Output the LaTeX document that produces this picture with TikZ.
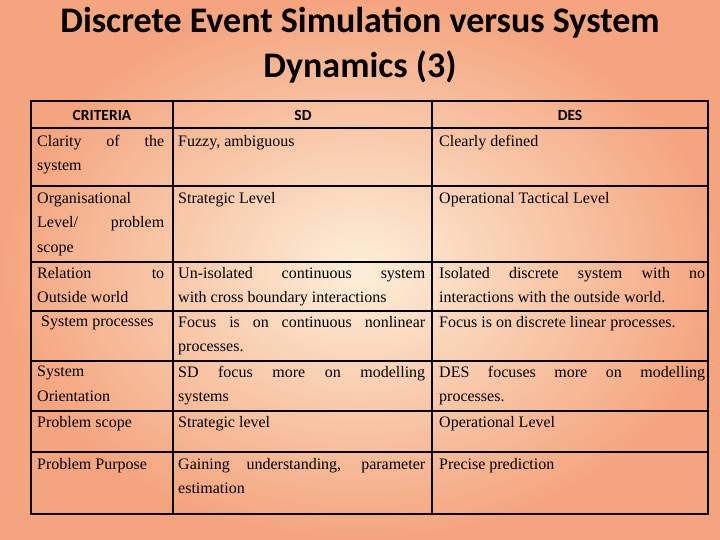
\documentclass[tikz,border=0pt]{standalone}
\usepackage{fontspec}
\setmainfont{Liberation Serif}
\newfontfamily\hdfont{Carlito}
\definecolor{bgin}{HTML}{FCEFD8}
\definecolor{bgout}{HTML}{F4A57E}
\hyphenpenalty=10000
\exhyphenpenalty=10000
\begin{document}
\begin{tikzpicture}[x=1pt,y=-1pt,
  cell/.style={anchor=north west,inner sep=0pt,align=justify,font=\fontsize{16}{24.5}\selectfont},
  hd/.style={font=\hdfont\bfseries\fontsize{15.5}{18}\selectfont,inner sep=0pt},
  ttl/.style={font=\hdfont\bfseries\fontsize{36}{45}\selectfont,align=center,inner sep=0pt}]
\path[use as bounding box,shading=radial,inner color=bgin,outer color=bgout] (0,0) rectangle (720,540);
\node[ttl] (title) at (360,45) {Discrete Event Simulation versus System\\Dynamics (3)};
% grid
\draw[line width=1.5pt] (31,101) rectangle (708,514);
\foreach \y in {128,186,262,311,361,411,452} \draw[line width=1.2pt] (31,\y) -- (708,\y);
\draw[line width=1.2pt] (173,101) -- (173,514);
\draw[line width=1.2pt] (432,101) -- (432,514);
% header
\node[hd] (h1) at (102,115) {CRITERIA};
\node[hd] (h2) at (303,115) {SD};
\node[hd] (h3) at (570,115) {DES};
% column 1
\begin{scope}[cell/.append style={text width=127pt}]
\node[cell] (a1) at (37,135) {Clarity of the\linebreak system};
\node[cell] (a2) at (37,192) {Organisational\\Level/ problem\linebreak scope};
\node[cell] (a3) at (37,267) {Relation to\linebreak Outside world};
\node[cell] (a4) at (37,316) {\ System processes};
\node[cell] (a5) at (37,366) {System\\Orientation};
\node[cell] (a6) at (37,416) {Problem scope};
\node[cell] (a7) at (37,458) {Problem Purpose};
\end{scope}
\begin{scope}[cell/.append style={text width=247pt}]
\node[cell] (b1) at (178,135) {Fuzzy, ambiguous};
\node[cell] (b2) at (178,192) {Strategic Level};
\node[cell] (b3) at (178,267) {Un-isolated continuous system\linebreak with cross boundary interactions};
\node[cell] (b4) at (178,316) {Focus is on continuous nonlinear\linebreak processes.};
\node[cell] (b5) at (178,366) {SD focus more on modelling\linebreak systems};
\node[cell] (b6) at (178,416) {Strategic level};
\node[cell] (b7) at (178,458) {Gaining understanding, parameter\linebreak estimation};
\end{scope}
\begin{scope}[cell/.append style={text width=266pt}]
\node[cell] (c1) at (439,135) {Clearly defined};
\node[cell] (c2) at (439,192) {Operational Tactical Level};
\node[cell] (c3) at (439,267) {Isolated discrete system with no\linebreak interactions with the outside world.};
\node[cell] (c4) at (439,316) {Focus is on discrete linear processes.};
\node[cell] (c5) at (439,366) {DES focuses more on modelling\linebreak processes.};
\node[cell] (c6) at (439,416) {Operational Level};
\node[cell] (c7) at (439,458) {Precise prediction};
\end{scope}
\end{tikzpicture}
\end{document}
